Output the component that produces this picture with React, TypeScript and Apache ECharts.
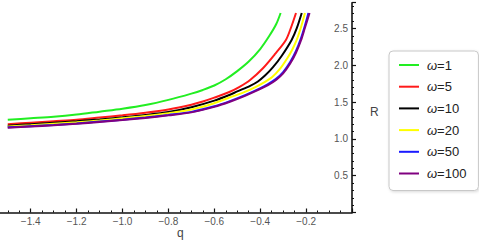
import React, { useEffect, useRef } from "react";
import * as echarts from "echarts";

const seriesNames = ["ω=1", "ω=5", "ω=10", "ω=20", "ω=50", "ω=100"];
const seriesColors = ["#22ee22", "#ff1a1a", "#000000", "#ffff00", "#1a1aff", "#800080"];

const qW1 = [-1.5, -1.4, -1.3, -1.2, -1.1, -1.0, -0.9, -0.8, -0.7, -0.65, -0.6, -0.55, -0.5, -0.45, -0.4, -0.36, -0.33, -0.311];
const rW1 = [1.26, 1.28, 1.3, 1.33, 1.37, 1.41, 1.46, 1.53, 1.615, 1.665, 1.725, 1.81, 1.92, 2.05, 2.22, 2.4, 2.56, 2.71];

const qW5 = [-1.5, -1.4, -1.3, -1.2, -1.1, -1.0, -0.9, -0.8, -0.7, -0.65, -0.6, -0.532, -0.488, -0.444, -0.388, -0.336, -0.288, -0.266, -0.244];
const rW5 = [1.2, 1.22, 1.24, 1.26, 1.29, 1.32, 1.355, 1.4, 1.465, 1.508, 1.56, 1.64, 1.71, 1.8, 1.96, 2.15, 2.344, 2.51, 2.71];

const qW10 = [-1.5, -1.4, -1.3, -1.2, -1.1, -1.0, -0.9, -0.8, -0.7, -0.6, -0.532, -0.5, -0.444, -0.41, -0.379, -0.345, -0.306, -0.263, -0.241, -0.219];
const rW10 = [1.18, 1.2, 1.22, 1.24, 1.265, 1.293, 1.325, 1.365, 1.43, 1.52, 1.6, 1.645, 1.72, 1.78, 1.86, 1.97, 2.13, 2.344, 2.5, 2.71];

const qW20 = [-1.5, -1.4, -1.3, -1.2, -1.1, -1.0, -0.9, -0.8, -0.7, -0.6, -0.532, -0.48, -0.423, -0.385, -0.349, -0.314, -0.282, -0.26, -0.241, -0.222, -0.205];
const rW20 = [1.168, 1.185, 1.205, 1.225, 1.25, 1.28, 1.31, 1.35, 1.4, 1.485, 1.565, 1.622, 1.7, 1.765, 1.837, 1.95, 2.095, 2.215, 2.344, 2.52, 2.71];

const qW50 = [-1.5, -1.4, -1.3, -1.2, -1.1, -1.0, -0.9, -0.8, -0.7, -0.6, -0.532, -0.466, -0.401, -0.366, -0.331, -0.3, -0.27, -0.244, -0.222, -0.205, -0.19];
const rW50 = [1.157, 1.173, 1.19, 1.21, 1.235, 1.261, 1.291, 1.326, 1.367, 1.443, 1.513, 1.594, 1.686, 1.743, 1.815, 1.907, 2.04, 2.195, 2.37, 2.54, 2.71];

const qW100 = [-1.5, -1.4, -1.3, -1.2, -1.1, -1.0, -0.9, -0.8, -0.7, -0.6, -0.532, -0.466, -0.401, -0.366, -0.331, -0.3, -0.27, -0.244, -0.222, -0.205, -0.185];
const rW100 = [1.152, 1.168, 1.185, 1.205, 1.23, 1.255, 1.285, 1.32, 1.36, 1.435, 1.505, 1.585, 1.675, 1.73, 1.8, 1.89, 2.02, 2.17, 2.34, 2.51, 2.71];

const allQ = [qW1, qW5, qW10, qW20, qW50, qW100];
const allR = [rW1, rW5, rW10, rW20, rW50, rW100];

const xAxisName = "q";
const yAxisName = "R";

export default function App() {
  const ref = useRef<HTMLDivElement>(null);
  useEffect(() => {
    if (!ref.current) return;
    const chart = echarts.init(ref.current, undefined, { renderer: "svg" });
    const font = "Liberation Sans, Arial, sans-serif";
    chart.setOption({
      animation: false,
      backgroundColor: "#ffffff",
      grid: {
        left: -15.2,
        right: 127,
        top: 2.7,
        bottom: 29.5,
        containLabel: false,
        outerBoundsMode: "none",
      },
      xAxis: {
        type: "value",
        min: -1.6,
        max: 0,
        interval: 0.2,
        splitLine: { show: false },
        axisLine: { lineStyle: { color: "#111", width: 1.6 } },
        axisTick: { inside: true, length: 4, lineStyle: { color: "#111", width: 1.2 } },
        minorTick: { show: true, splitNumber: 4, length: 2, lineStyle: { color: "#111", width: 1 } },
        axisLabel: {
          color: "#555",
          fontSize: 10,
          fontFamily: font,
          margin: 4,
          showMinLabel: false,
          showMaxLabel: false,
          formatter: (v: number) => (Math.abs(v) < 1e-9 ? "" : v.toFixed(1).replace("-", "\u2212")),
        },
      },
      yAxis: {
        type: "value",
        position: "right",
        min: 0,
        max: 2.85,
        interval: 0.5,
        splitLine: { show: false },
        axisLine: { onZero: false, lineStyle: { color: "#111", width: 1.6 } },
        axisTick: { inside: false, length: 4, lineStyle: { color: "#111", width: 1.2 } },
        minorTick: { show: true, splitNumber: 5, length: 2, lineStyle: { color: "#111", width: 1 } },
        axisLabel: {
          inside: true,
          color: "#555",
          fontSize: 10,
          fontFamily: font,
          margin: 4,
          showMinLabel: false,
          showMaxLabel: false,
          formatter: (v: number) => v.toFixed(1),
        },
      },
      legend: {
        orient: "vertical",
        left: 389,
        top: 51,
        data: seriesNames,
        icon: "rect",
        itemWidth: 20,
        itemHeight: 2,
        itemGap: 7.7,
        padding: [7, 12, 10, 10],
        borderColor: "#c8c8c8",
        borderWidth: 1,
        borderRadius: 4,
        backgroundColor: "#fff",
        shadowColor: "rgba(0,0,0,0.15)",
        shadowBlur: 3,
        shadowOffsetX: 1,
        shadowOffsetY: 1,
        textStyle: {
          color: "#222",
          fontSize: 13,
          fontFamily: font,
          lineHeight: 14,
          padding: [0, 0, 0, 3],
          rich: { w: { fontStyle: "italic", fontSize: 13, fontFamily: font, color: "#222" } },
        },
        formatter: (name: string) => "{w|ω}" + name.slice(1),
      },
      graphic: [
        { type: "text", left: 177, top: 227, style: { text: xAxisName, fontSize: 12, fill: "#444", fontFamily: font } },
        { type: "text", left: 370, top: 106, style: { text: yAxisName, fontSize: 12, fill: "#444", fontFamily: font } },
      ],
      series: seriesNames.map((name, i) => ({
        name,
        type: "line",
        data: allQ[i].map((q, j) => [q, allR[i][j]]),
        showSymbol: false,
        smooth: 0.3,
        lineStyle: { color: seriesColors[i], width: 2 },
        itemStyle: { color: seriesColors[i] },
        z: 2 + i,
      })),
    });
    return () => chart.dispose();
  }, []);
  return <div ref={ref} style={{ position: "absolute", left: 0, top: 0, width: 479, height: 242 }} />;
}
